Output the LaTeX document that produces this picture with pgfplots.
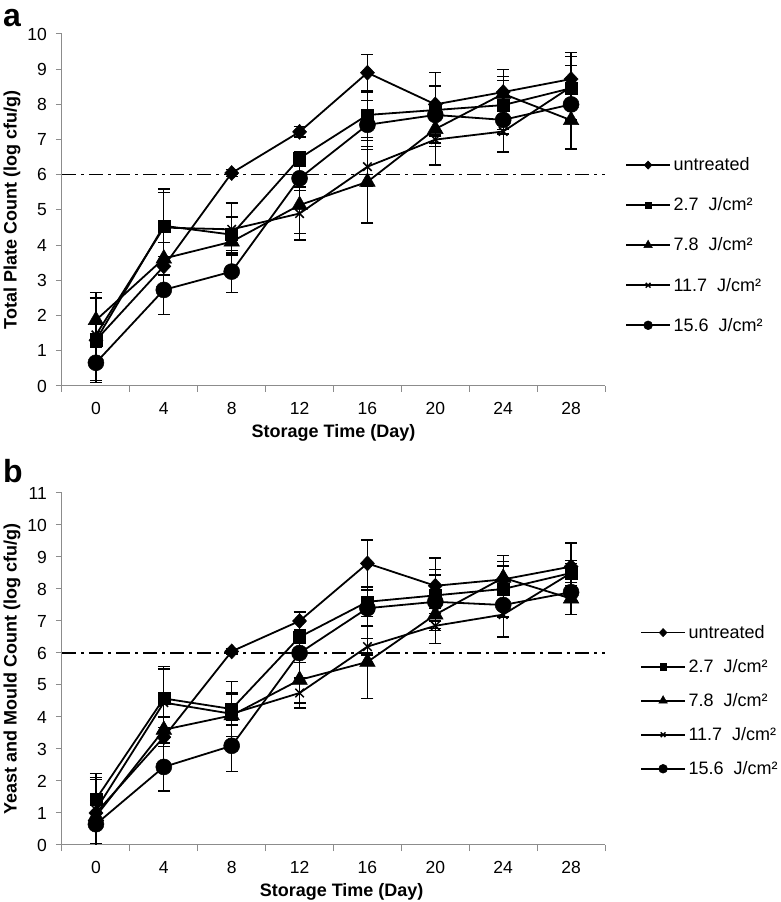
\documentclass[border=0pt]{standalone}
\usepackage{fontspec}
\setmainfont{Liberation Sans}
\usepackage{pgfplots}
\usepackage{pgfplotstable}
\pgfplotsset{compat=1.18}

\definecolor{axgray}{HTML}{8C8C8C}

% total plate count (panel a): mean and sd per treatment
\pgfplotstableread{
day u    ue   s    se   t    te   x    xe   c    ce
0   1.30 0.20 1.30 1.20 1.87 0.78 1.45 0.30 0.66 0.50
4   3.40 0.27 4.55 1.05 3.62 0.45 4.50 1.00 2.73 0.70
8   6.05 0.10 4.30 0.50 4.10 0.35 4.45 0.75 3.25 0.60
12  7.22 0.15 6.47 0.20 5.14 0.80 4.90 0.75 5.90 0.35
16  8.90 0.52 7.70 0.65 5.80 1.17 6.23 0.57 7.42 0.70
20  8.00 0.90 7.84 0.70 7.30 0.50 7.00 0.72 7.70 0.80
24  8.35 0.65 7.98 0.70 8.30 0.50 7.23 0.58 7.56 0.40
28  8.72 0.75 8.46 0.90 7.55 0.82 8.50 0.60 8.00 0.50
}\tpc

% yeast and mould count (panel b)
\pgfplotstableread{
day u    ue   s    se   t    te   x    xe   c    ce
0   1.00 1.10 1.43 0.80 0.90 1.15 1.10 0.30 0.65 0.60
4   3.37 0.30 4.58 1.00 3.60 0.40 4.45 1.05 2.44 0.75
8   6.05 0.10 4.25 0.50 4.05 0.65 4.10 1.00 3.10 0.80
12  7.00 0.28 6.50 0.20 5.16 0.72 4.75 0.47 6.00 0.30
16  8.80 0.73 7.60 0.46 5.72 1.14 6.20 0.26 7.40 0.57
20  8.10 0.87 7.80 0.80 7.20 0.50 6.85 0.55 7.60 0.84
24  8.30 0.42 8.00 0.85 8.35 0.70 7.20 0.70 7.50 0.40
28  8.70 0.74 8.50 0.40 7.70 0.50 8.50 0.30 7.90 0.30
}\ymc

\pgfplotsset{
  panel/.style={
    scale only axis, width=543pt, height=352pt,
    xmin=-2, xmax=30, ymin=0,
    axis x line*=bottom, axis y line*=left,
    axis line style={axgray, line width=1pt, -},
    tick align=outside,
    major tick length=6pt, minor tick length=6pt,
    tick style={axgray, line width=1pt},
    xtick={0,4,...,28},
    minor xtick={-2,2,...,30},
    major x tick style={draw=none},
    /pgf/number format/assume math mode=true,
    tick label style={font=\fontsize{17.5}{17.5}\selectfont, black},
    yticklabel style={inner sep=0pt, xshift=-9pt},
    xticklabel style={inner sep=0pt, yshift=-10pt},
    label style={font=\bfseries\fontsize{18}{18}\selectfont},
    legend cell align=left,
    legend image code/.code={
      \draw[mark repeat=2, mark phase=2, ##1, every mark/.append style={scale=0.55}]
        plot coordinates {(0pt,0pt) (22pt,0pt) (44pt,0pt)};
    },
  },
  ser/.style={black, line width=1.8pt, mark options={solid, fill=black, line width=0.5pt},
    error bars/y dir=both, error bars/y explicit, error bars/error mark=-,
    error bars/error bar style={line width=1.3pt, black},
    error bars/error mark options={rotate=90, line width=1.3pt, mark size=6pt, black}},
  dia/.style={mark=diamond*, mark size=7.5pt, mark options={solid, fill=black, line width=0.5pt, xscale=1.25}},
  thr/.style={black, line width=1.2pt, dash pattern=on 14pt off 5pt on 3pt off 5pt, forget plot},
}

\begin{document}
\begin{tikzpicture}
\useasboundingbox (0,0) rectangle (780pt,902pt);

\node[font=\bfseries\fontsize{32}{32}\selectfont, anchor=base west, inner sep=0pt] at (3pt,875pt) {a};
\node[font=\bfseries\fontsize{32}{32}\selectfont, anchor=base west, inner sep=0pt] at (3pt,419pt) {b};

\begin{axis}[panel, at={(62pt,516pt)}, anchor=south west, ymax=10, ytick={0,1,...,10},
  ylabel={Total Plate Count (log cfu/g)},
  xlabel={Storage Time (Day)},
  ylabel style={at={(axis description cs:-0.0921,0.5)}, anchor=center},
  xlabel style={at={(axis description cs:0.5,0)}, anchor=center, yshift=-47pt},
  legend style={draw=none, fill=none, at={(axis description cs:1,0.40)}, anchor=west, xshift=20pt,
    font=\fontsize{18}{18}\selectfont, row sep=20.5pt, inner sep=0pt, nodes={inner sep=2.5pt}}]
\addplot[thr] coordinates {(-2,6) (30,6)};
\addplot[ser, dia] table[x=day, y=u, y error=ue] {\tpc};
\addlegendentry{untreated}
\addplot[ser, mark=square*, mark size=6pt] table[x=day, y=s, y error=se] {\tpc};
\addlegendentry{2.7\ \ J/cm²}
\addplot[ser, mark=triangle*, mark size=9pt] table[x=day, y=t, y error=te] {\tpc};
\addlegendentry{7.8\ \ J/cm²}
\addplot[ser, mark=x, mark size=6pt, mark options={line width=1.5pt}] table[x=day, y=x, y error=xe] {\tpc};
\addlegendentry{11.7\ \ J/cm²}
\addplot[ser, mark=*, mark size=8pt] table[x=day, y=c, y error=ce] {\tpc};
\addlegendentry{15.6\ \ J/cm²}
\end{axis}

\begin{axis}[panel, at={(62pt,57pt)}, anchor=south west, ymax=11, ytick={0,1,...,11},
  ylabel={Yeast and Mould Count (log cfu/g)},
  xlabel={Storage Time (Day)},
  ylabel style={at={(axis description cs:-0.0921,0.5)}, anchor=center},
  xlabel style={at={(axis description cs:0.515,0)}, anchor=center, yshift=-47pt},
  legend style={draw=none, fill=none, at={(axis description cs:1,0.41)}, anchor=west, xshift=35pt,
    font=\fontsize{18}{18}\selectfont, row sep=14.5pt, inner sep=0pt, nodes={inner sep=2.5pt}}]
\addplot[thr] coordinates {(-2,6) (30,6)};
\addplot[ser, dia] table[x=day, y=u, y error=ue] {\ymc};
\addlegendentry{untreated}
\addplot[ser, mark=square*, mark size=6pt] table[x=day, y=s, y error=se] {\ymc};
\addlegendentry{2.7\ \ J/cm²}
\addplot[ser, mark=triangle*, mark size=9pt] table[x=day, y=t, y error=te] {\ymc};
\addlegendentry{7.8\ \ J/cm²}
\addplot[ser, mark=x, mark size=6pt, mark options={line width=1.5pt}] table[x=day, y=x, y error=xe] {\ymc};
\addlegendentry{11.7\ \ J/cm²}
\addplot[ser, mark=*, mark size=8pt] table[x=day, y=c, y error=ce] {\ymc};
\addlegendentry{15.6\ \ J/cm²}
\end{axis}
\end{tikzpicture}
\end{document}
